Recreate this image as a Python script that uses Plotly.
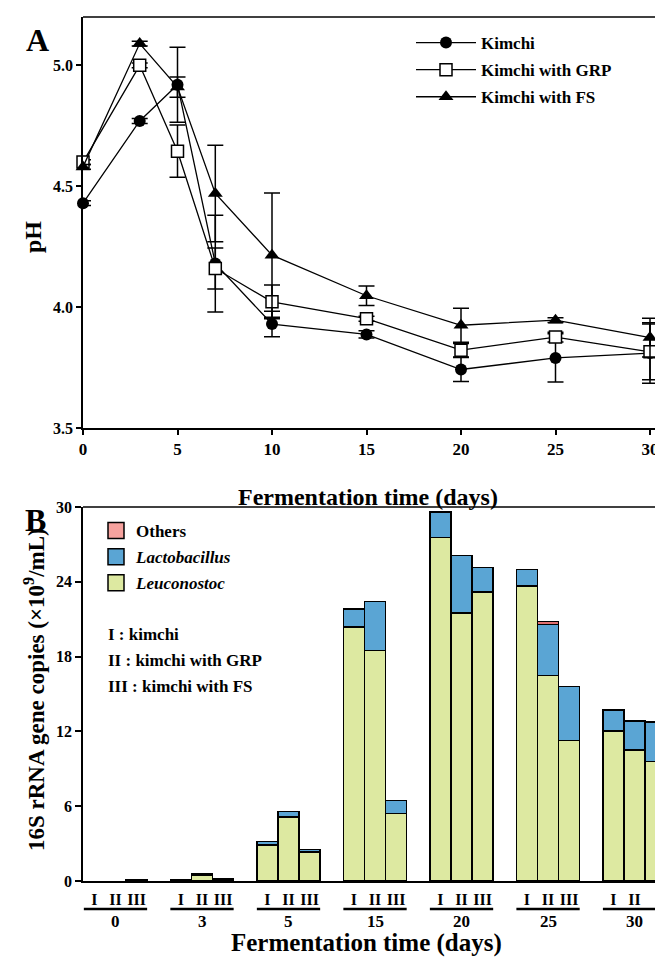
import plotly.graph_objects as go
import numpy as np

FONT = "Liberation Serif"
# The page puts the figure 8 px in from the top-left corner, so the figure is
# sized to the visible part of the window and reference pixels are shifted.
OFF = 8
W, H = 663 - OFF, 957 - OFF


def px(x):
    return (x - OFF) / W


def py(y):
    return 1 - (y - OFF) / H


# ---------------- Panel A data ----------------
days_A = [0, 3, 5, 7, 10, 15, 20, 25, 30]
ph_kimchi = [4.43, 4.77, 4.92, 4.18, 3.93, 3.887, 3.742, 3.79, 3.81]
ph_kimchi_err = [0.01, 0.01, 0.155, 0.20, 0.053, 0.015, 0.05, 0.10, 0.125]
ph_grp = [4.60, 5.00, 4.645, 4.16, 4.022, 3.952, 3.822, 3.876, 3.815]
ph_grp_err = [0.01, 0.01, 0.108, 0.085, 0.07, 0.01, 0.028, 0.02, 0.115]
ph_fs = [4.58, 5.09, 4.91, 4.47, 4.215, 4.047, 3.925, 3.946, 3.874]
ph_fs_err = [0.01, 0.01, 0.042, 0.20, 0.257, 0.04, 0.07, 0.01, 0.08]
yticks_A = [3.5, 4.0, 4.5, 5.0]
xticks_A = [0, 5, 10, 15, 20, 25, 30]

# ---------------- Panel B data ----------------
days_B = ["0", "3", "5", "15", "20", "25", "30"]
samples_B = ["I", "II", "III"]
leuconostoc = [
    [0.0, 0.0, 0.05],
    [0.05, 0.50, 0.12],
    [2.88, 5.14, 2.34],
    [20.37, 18.50, 5.43],
    [27.57, 21.50, 23.18],
    [23.66, 16.50, 11.27],
    [12.05, 10.49, 9.58],
]
lactobacillus = [
    [0.0, 0.0, 0.04],
    [0.06, 0.08, 0.03],
    [0.27, 0.43, 0.19],
    [1.45, 3.93, 1.02],
    [2.03, 4.62, 1.98],
    [1.34, 4.06, 4.33],
    [1.65, 2.34, 3.17],
]
others = [
    [0, 0, 0],
    [0, 0, 0],
    [0, 0, 0],
    [0, 0, 0],
    [0, 0, 0],
    [0, 0.25, 0],
    [0, 0, 0],
]
yticks_B = [0, 6, 12, 18, 24, 30]
sample_notes = ["I : kimchi", "II : kimchi with GRP", "III : kimchi with FS"]

C_LEU = "#DDE9A1"
C_LAC = "#5AA5D4"
C_OTH = "#F6A29E"


def bf(s):
    return dict(family=FONT, size=s, color="black", weight="bold")


fig = go.Figure()

# ---- Panel A traces ----
series_A = [
    ("Kimchi", ph_kimchi, ph_kimchi_err, dict(symbol="circle", color="black", size=12)),
    ("Kimchi with GRP", ph_grp, ph_grp_err,
     dict(symbol="square", color="white", size=12, line=dict(color="black", width=1.5))),
    ("Kimchi with FS", ph_fs, ph_fs_err, dict(symbol="triangle-up", color="black", size=13)),
]
for name, vals, errs, mk in series_A:
    fig.add_trace(go.Scatter(
        x=days_A, y=vals, name=name, mode="lines+markers", legendgroup=name,
        line=dict(color="black", width=1.3), marker=mk,
        error_y=dict(type="data", array=errs, visible=True, color="black", thickness=1.5, width=8),
        xaxis="x", yaxis="y", legend="legend", cliponaxis=False,
    ))

# ---- Panel B bars ----
gidx = np.arange(len(days_B))
centers = 1.54 + 4.1 * gidx
bar_x, bar_text, leu_v, lac_v, oth_v = [], [], [], [], []
for g in range(len(days_B)):
    for j in range(3):
        bar_x.append(centers[g] + (j - 1))
        bar_text.append(samples_B[j])
        leu_v.append(leuconostoc[g][j] if leuconostoc[g][j] > 0 else None)
        lac_v.append(lactobacillus[g][j] if lactobacillus[g][j] > 0 else None)
        oth_v.append(others[g][j] if others[g][j] > 0 else None)

for name, vals, col, lw in [("Leuconostoc", leu_v, C_LEU, 1.5), ("Lactobacillus", lac_v, C_LAC, 1.5),
                            ("Others", oth_v, "#E07070", 1.0)]:
    fig.add_trace(go.Bar(
        x=bar_x, y=vals, width=1.0, name=name, marker=dict(color=col, line=dict(color="black", width=lw)),
        xaxis="x2", yaxis="y2", showlegend=False,
    ))

# legend proxies for panel B
for name, col in [("Others", C_OTH), ("<i>Lactobacillus</i>", C_LAC), ("<i>Leuconostoc</i>", C_LEU)]:
    fig.add_trace(go.Scatter(
        x=[None], y=[None], mode="markers", name=name, legendgroup=name,
        marker=dict(symbol="square", size=20, color=col, line=dict(color="black", width=1.5)),
        xaxis="x2", yaxis="y2", legend="legend2",
    ))

# domains (pixel-derived from the reference)
xdom = [px(83), 1.0]
yA = [py(428), py(17)]
yB = [py(881), py(507)]
xr_A = [0, (663 - 83) / 18.9]
xr_B = [0, (663 - 83) / 21.1]

axis_common = dict(showline=True, linecolor="black", linewidth=1.5, showgrid=False, zeroline=False,
                   automargin=False, tickcolor="black", tickwidth=1.5)

fig.update_layout(
    template="none",
    width=W, height=H, margin=dict(l=0, r=0, t=0, b=0, pad=0), autosize=False,
    paper_bgcolor="white", plot_bgcolor="white",
    barmode="stack", showlegend=True,
    font=dict(family=FONT, color="black"),
    xaxis=dict(domain=xdom, range=xr_A, anchor="y",
               tickvals=xticks_A, ticks="outside", ticklen=5, tickfont=bf(17), **axis_common),
    yaxis=dict(domain=yA, range=[3.5, 5.2], anchor="x",
               tickvals=yticks_A, ticktext=[f"{v:.1f}" for v in yticks_A],
               ticks="outside", ticklen=5, tickfont=bf(16), **axis_common),
    xaxis2=dict(domain=xdom, range=xr_B, anchor="y2",
                tickvals=bar_x, ticktext=bar_text, ticks="", ticklabelstandoff=3,
                tickfont=bf(16), **axis_common),
    yaxis2=dict(domain=yB, range=[0, 30], anchor="x2",
                tickvals=yticks_B, ticks="outside", ticklen=6, tickfont=bf(16), **axis_common),
    legend=dict(x=px(411), y=py(25), xanchor="left", yanchor="top", traceorder="grouped",
                font=bf(17), bgcolor="rgba(0,0,0,0)", itemwidth=60, tracegroupgap=2),
    legend2=dict(x=px(96), y=py(513), xanchor="left", yanchor="top", traceorder="grouped",
                 font=bf(17), bgcolor="rgba(0,0,0,0)", itemwidth=30, tracegroupgap=1),
)

shapes = [
    dict(type="line", xref="x domain", yref="y domain", x0=0, x1=1, y0=1, y1=1,
         line=dict(color="black", width=1.5)),
    dict(type="line", xref="x2 domain", yref="y2 domain", x0=0, x1=1, y0=1, y1=1,
         line=dict(color="black", width=1.5)),
]


def ann(text, x, y, size, xref="paper", xanchor="center", angle=0):
    return dict(text=text, x=x, y=y, xref=xref, yref="paper", showarrow=False,
                xanchor=xanchor, yanchor="middle", textangle=angle, font=bf(size))


annotations = [
    ann("<b>A</b>", px(24), py(40), 32, xanchor="left"),
    ann("<b>B</b>", px(23), py(520), 32, xanchor="left"),
    ann("<b>pH</b>", px(33), py(237), 24, angle=-90),
    ann("<b>Fermentation time (days)</b>", px(368), py(497), 24),
    ann("<b>Fermentation time (days)</b>", px(366), py(943), 25),
    ann("<b>16S rRNA gene copies (×10<sup>9</sup>/mL)</b>", px(34), py(690), 23, angle=-90),
]
for k, note in enumerate(sample_notes):
    annotations.append(ann(f"<b>{note}</b>", px(106), py(634 + 26 * k), 17, xanchor="left"))
for g, lab in enumerate(days_B):
    shapes.append(dict(type="line", xref="x2", yref="paper", x0=centers[g] - 1.5, x1=centers[g] + 1.5,
                       y0=py(909), y1=py(909), line=dict(color="black", width=2.5)))
    annotations.append(ann(f"<b>{lab}</b>", centers[g], py(921), 17, xref="x2"))

fig.update_layout(shapes=shapes, annotations=annotations)
fig.write_html("out.html")
